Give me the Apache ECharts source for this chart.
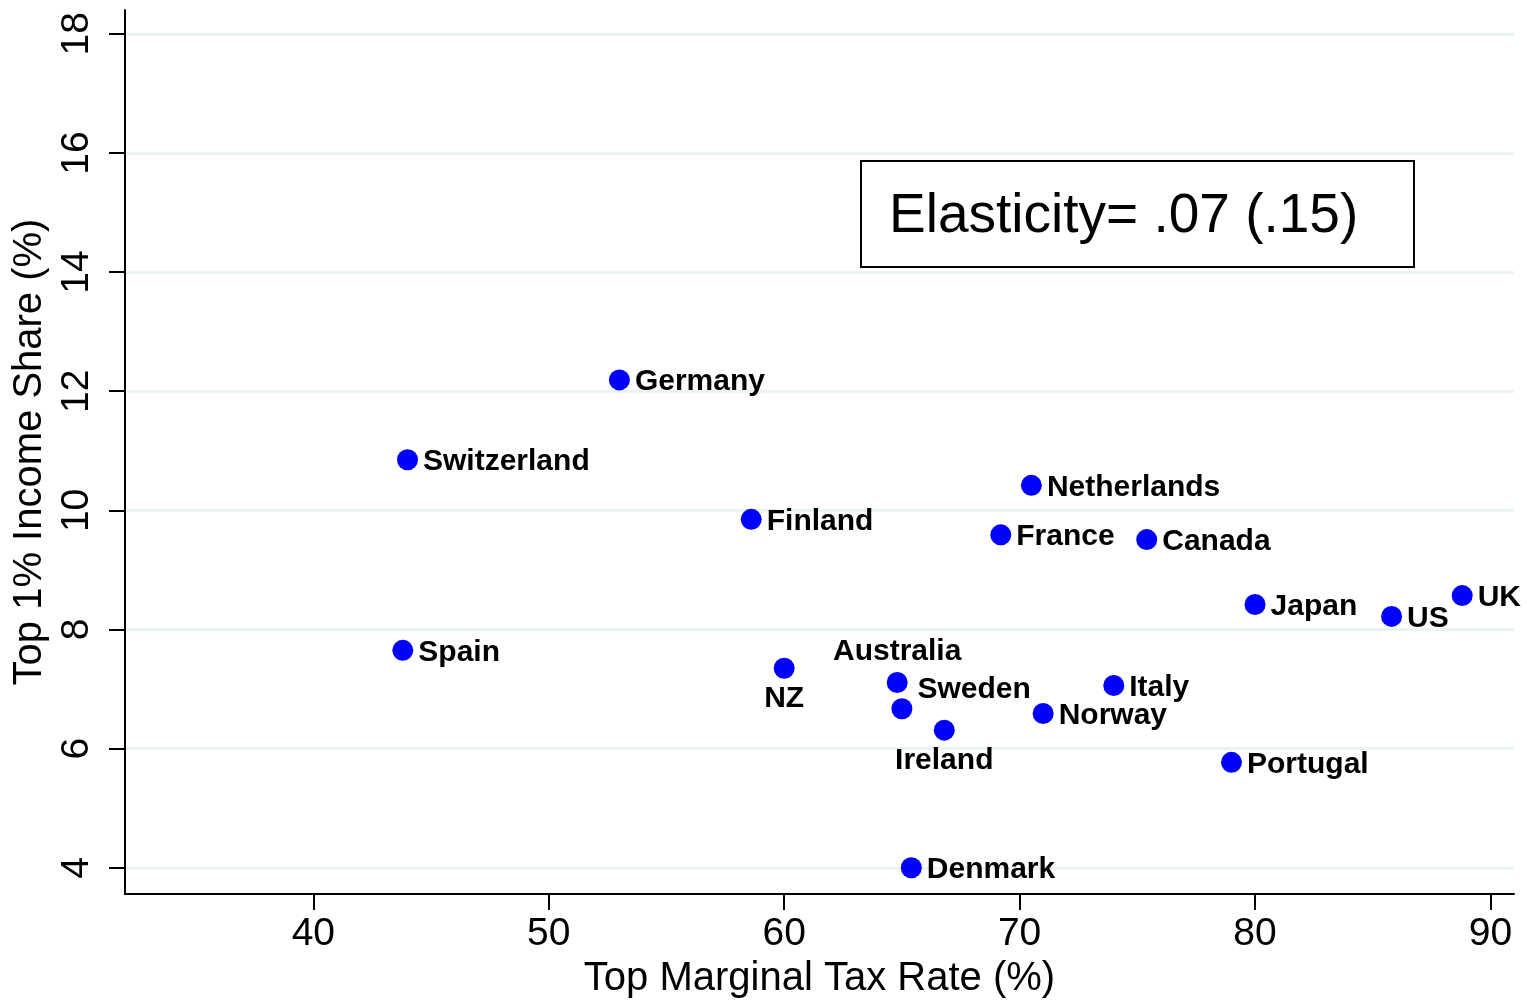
<!DOCTYPE html>
<html>
<head>
<meta charset="utf-8">
<script src="https://cdn.jsdelivr.net/npm/echarts@6/dist/echarts.min.js"></script>
<style>
  html, body { margin: 0; padding: 0; background: #fff; }
  #chart { width: 1527px; height: 1002px; }
</style>
</head>
<body>
<div id="chart"></div>
<script>
// 国家 / 最高边际税率 / 前1%收入占比
const countries = ['Germany', 'Switzerland', 'Finland', 'Netherlands', 'France', 'Canada', 'Japan', 'UK', 'US',
  'Spain', 'NZ', 'Australia', 'Sweden', 'Ireland', 'Italy', 'Norway', 'Portugal', 'Denmark'];
const taxRate = [53.0, 44.0, 58.6, 70.5, 69.2, 75.4, 80.0, 88.8, 85.8,
  43.8, 60.0, 64.8, 65.0, 66.8, 74.0, 71.0, 79.0, 65.4];
const topShare = [12.19, 10.85, 9.85, 10.42, 9.59, 9.51, 8.42, 8.57, 8.22,
  7.65, 7.35, 7.11, 6.67, 6.31, 7.06, 6.59, 5.77, 4.00];
const xTicks = [40, 50, 60, 70, 80, 90];
const yTicks = [4, 6, 8, 10, 12, 14, 16, 18];
const note = 'Elasticity= .07 (.15)';

// label placement (Stata mlabposition)
const labelPos = {
  NZ: { position: 'bottom', offset: [0, 0] },
  Australia: { position: 'top', offset: [0, 0] },
  Ireland: { position: 'bottom', offset: [0, 0] },
  Sweden: { position: 'right', offset: [0, -19] }
};

const sans = '"Liberation Sans", Arial, Helvetica, sans-serif';

let myChart = echarts.init(document.getElementById('chart'));
let option = {
  animation: false,
  backgroundColor: '#fff',
  grid: { left: 125, right: 13, top: 10, bottom: 108, containLabel: false, outerBoundsMode: 'none' },
  xAxis: {
    type: 'value',
    min: 32,
    max: 91,
    name: 'Top Marginal Tax Rate (%)',
    nameLocation: 'middle',
    nameGap: 62,
    nameTextStyle: { fontFamily: sans, fontSize: 40, color: '#000' },
    axisLine: { show: true, onZero: false, lineStyle: { color: '#000', width: 2 } },
    axisTick: { show: true, length: 16, customValues: xTicks, lineStyle: { color: '#000', width: 2 } },
    axisLabel: { customValues: xTicks, margin: 21, fontFamily: sans, fontSize: 39, color: '#000' },
    splitLine: { show: false }
  },
  yAxis: {
    type: 'value',
    min: 3.56,
    max: 18.4,
    name: 'Top 1% Income Share (%)',
    nameLocation: 'middle',
    nameGap: 58,
    nameTextStyle: { fontFamily: sans, fontSize: 40, color: '#000' },
    axisLine: { show: true, onZero: false, lineStyle: { color: '#000', width: 2 } },
    axisTick: { show: true, length: 16, customValues: yTicks, lineStyle: { color: '#000', width: 2 } },
    axisLabel: { customValues: yTicks, rotate: 90, margin: 28, fontFamily: sans, fontSize: 39, color: '#000' },
    splitLine: { show: false }
  },
  graphic: [
    {
      type: 'group',
      left: 860,
      top: 160,
      children: [
        { type: 'rect', shape: { x: 0, y: 0, width: 553, height: 106 }, style: { fill: '#fff', stroke: '#000', lineWidth: 2 } },
        { type: 'text', x: 28, y: 56, style: { text: note, font: '55px ' + sans, fill: '#000', verticalAlign: 'middle' } }
      ]
    }
  ],
  series: [
    {
      // 横向网格线
      type: 'scatter',
      data: [],
      silent: true,
      z: 1,
      markLine: {
        silent: true,
        z: 0,
        symbol: 'none',
        label: { show: false },
        lineStyle: { color: '#eaf2f3', width: 3, type: 'solid' },
        data: yTicks.map(v => ({ yAxis: v }))
      }
    },
    {
      type: 'scatter',
      z: 3,
      symbolSize: 21,
      itemStyle: { color: '#0000ff', opacity: 1 },
      label: {
        show: true,
        position: 'right',
        distance: 5,
        offset: [0, 2],
        formatter: p => p.name,
        fontFamily: sans,
        fontWeight: 'bold',
        fontSize: 30,
        color: '#000'
      },
      data: countries.map((c, i) => ({
        name: c,
        value: [taxRate[i], topShare[i]],
        label: Object.assign({ color: '#000' }, labelPos[c])
      }))
    }
  ]
};
myChart.setOption(option);
</script>
</body>
</html>
